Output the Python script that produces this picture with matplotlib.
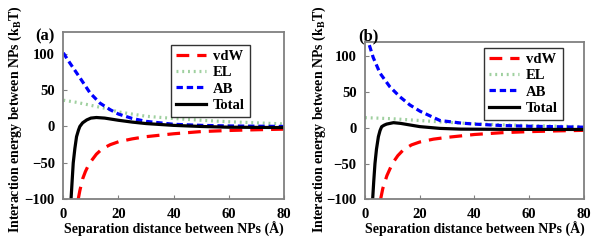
import matplotlib
matplotlib.use("Agg")
import matplotlib.pyplot as plt

plt.rcParams['font.family'] = ['Liberation Serif', 'DejaVu Serif']
plt.rcParams['font.weight'] = 'bold'
plt.rcParams['mathtext.fontset'] = 'custom'
plt.rcParams['mathtext.bf'] = 'Liberation Serif:bold'
plt.rcParams['mathtext.rm'] = 'Liberation Serif:bold'

# panel (a) values
a_vdw_x = [5.4, 6, 7, 8, 9, 10, 12, 14, 17, 20, 25, 30, 40, 50, 60, 70, 80]
a_vdw_y = [-100, -88, -72, -62, -54, -48, -38, -31, -25, -21, -17, -14, -10, -7, -5.5, -4.5, -3.7]
a_el_x = [0, 5, 10, 15, 20, 30, 40, 50, 60, 70, 80]
a_el_y = [36, 33, 29, 25, 20, 14, 11, 8.5, 6.5, 5, 3.5]
a_ab_x = [0, 2.4, 6, 9.7, 13.3, 17, 20, 25, 30, 40, 50, 60, 80]
a_ab_y = [101, 87, 67, 46, 32, 23, 17, 11, 7, 3, 1.5, 0.7, 0]
a_tot_x = [2.8, 3.2, 3.6, 4.2, 4.8, 5.5, 6, 7, 8.5, 10, 12, 15, 20, 25, 30, 40, 50, 60, 80]
a_tot_y = [-100, -75, -50, -30, -14, -5, 0, 5, 9, 11.5, 12.3, 11.5, 8.5, 6, 4, 1.5, 0, -1, -1.5]

# panel (b)
b_vdw_x = [5.7, 6.5, 8, 10, 12, 14, 17, 20, 25, 30, 40, 50, 60, 70, 80]
b_vdw_y = [-100, -85, -67, -50, -39, -31, -24, -20, -16, -13.5, -9.5, -7, -5.5, -4.5, -3.7]
b_el_x = [0, 10, 20, 30, 40, 50, 60, 70, 80]
b_el_y = [14, 12.5, 10, 7.5, 5.5, 4, 3, 2, 1.5]
b_ab_x = [0, 1.2, 3, 5.5, 9.1, 12.8, 16.4, 20.1, 27.4, 35, 40, 50, 60, 80]
b_ab_y = [128, 120, 98, 76, 57, 43, 31.7, 23, 10, 6.5, 5, 3, 2, 0.7]
b_tot_x = [2.8, 3.2, 3.65, 4.2, 4.9, 5.5, 6.1, 7, 7.9, 10.4, 13, 16.4, 20, 27.4, 35, 50, 80]
b_tot_y = [-100, -75, -50, -30, -12.5, -4, 1.4, 3.5, 5, 7, 6, 3.8, 1.5, -1, -2, -2.3, -2.5]

panels = [
    ('(a)', [a_vdw_x, a_el_x, a_ab_x, a_tot_x], [a_vdw_y, a_el_y, a_ab_y, a_tot_y], 130,
     [0.1055, 0.209, 0.3678, 0.665], 35, 24, (0.846, 0.921)),
    ('(b)', [b_vdw_x, b_el_x, b_ab_x, b_tot_x], [b_vdw_y, b_el_y, b_ab_y, b_tot_y], 120,
     [0.6083, 0.209, 0.365, 0.6255], 358, 328, (0.904, 0.96)),
]
labels = ['vdW', 'EL', 'AB', 'Total']
colors = ['#ff0000', '#9fd09f', '#0000ff', '#000000']
styles = [(0, (4, 2.5)), (0, (0.6, 1.2)), (0, (2, 1.2)), '-']

fig = plt.figure(figsize=(6, 2.52), dpi=100)
for tag, xs, ys, ytop, rect, tag_px, ylab_px, leg_pos in panels:
    ax = fig.add_axes(rect)
    for x, y, lab, c, ls in zip(xs, ys, labels, colors, styles):
        ax.plot(x, y, color=c, linestyle=ls, linewidth=2.3, label=lab)
    ax.set_xlim(0, 80)
    ax.set_ylim(-100, ytop)
    ax.set_xticks([0, 20, 40, 60, 80])
    ax.set_yticks([-100, -50, 0, 50, 100])
    for s in ax.spines.values():
        s.set_color('#808080')
        s.set_linewidth(1.3)
    ax.tick_params(direction='in', color='#808080', length=3, labelsize=10.5, pad=6)
    ax.set_xlabel('Separation distance between NPs (Å)', fontsize=10, fontweight='bold', labelpad=1)
    ax.set_ylabel(r'Interaction energy between NPs (k$_\mathbf{B}$T)', fontsize=10, fontweight='bold')
    x0 = rect[0] * 600
    ax.yaxis.set_label_coords((ylab_px - x0) / (rect[2] * 600), (199.3 - 119) / (rect[3] * 252))
    leg = ax.legend(loc='upper right', bbox_to_anchor=leg_pos, fontsize=10.5,
                    frameon=True, fancybox=False, edgecolor='black', handlelength=2.0,
                    labelspacing=0.2, borderpad=0.35, handletextpad=0.5, borderaxespad=0)
    leg.get_frame().set_linewidth(1.0)
    fig.text(tag_px / 600, 1 - 36 / 252, tag, fontsize=12, fontweight='bold', va='center')

fig.savefig('out.png', dpi=100)
